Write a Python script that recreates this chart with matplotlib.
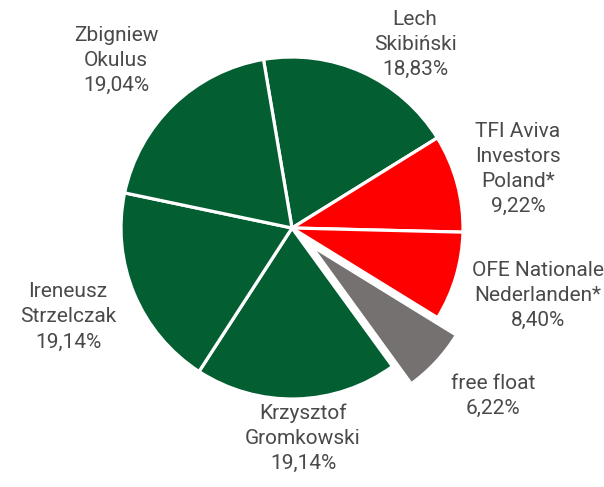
import matplotlib.pyplot as plt

names = ["Lech\nSkibiński", "TFI Aviva\nInvestors\nPoland*", "OFE Nationale\nNederlanden*",
         "free float", "Krzysztof\nGromkowski", "Ireneusz\nStrzelczak", "Zbigniew\nOkulus"]
shares = [18.83, 9.22, 8.40, 6.22, 19.14, 19.14, 19.04]
colors = ["#035e32", "#ff0000", "#ff0000", "#767171", "#035e32", "#035e32", "#035e32"]
explode = [0, 0, 0, 0.15, 0, 0, 0]
# label centres, in units of the pie radius
label_xy = [(0.72, 1.076), (1.322, 0.345), (1.439, -0.392), (1.175, -0.982),
            (0.064, -1.228), (-1.310, -0.520), (-1.029, 0.982)]

plt.rcParams['font.family'] = ['Roboto', 'DejaVu Sans']

fig = plt.figure(figsize=(6.04, 4.87), dpi=100)
ax = fig.add_axes([0, 0, 1, 1])

wedges, _ = ax.pie(shares, colors=colors, explode=explode, startangle=99.6,
                   counterclock=False, radius=1,
                   wedgeprops=dict(edgecolor="white", linewidth=2.3))

for name, val, (lx, ly) in zip(names, shares, label_xy):
    txt = name + "\n" + ("%.2f%%" % val).replace(".", ",")
    ax.text(lx, ly, txt, ha="center", va="center",
            fontsize=15, color="#4a4a4a", linespacing=1.4)

r = 171
ax.set_xlim(-292 / r, (604 - 292) / r)
ax.set_ylim(-259 / r, 228 / r)
ax.set_aspect("auto")
ax.axis("off")

plt.savefig("out.png", dpi=100)
